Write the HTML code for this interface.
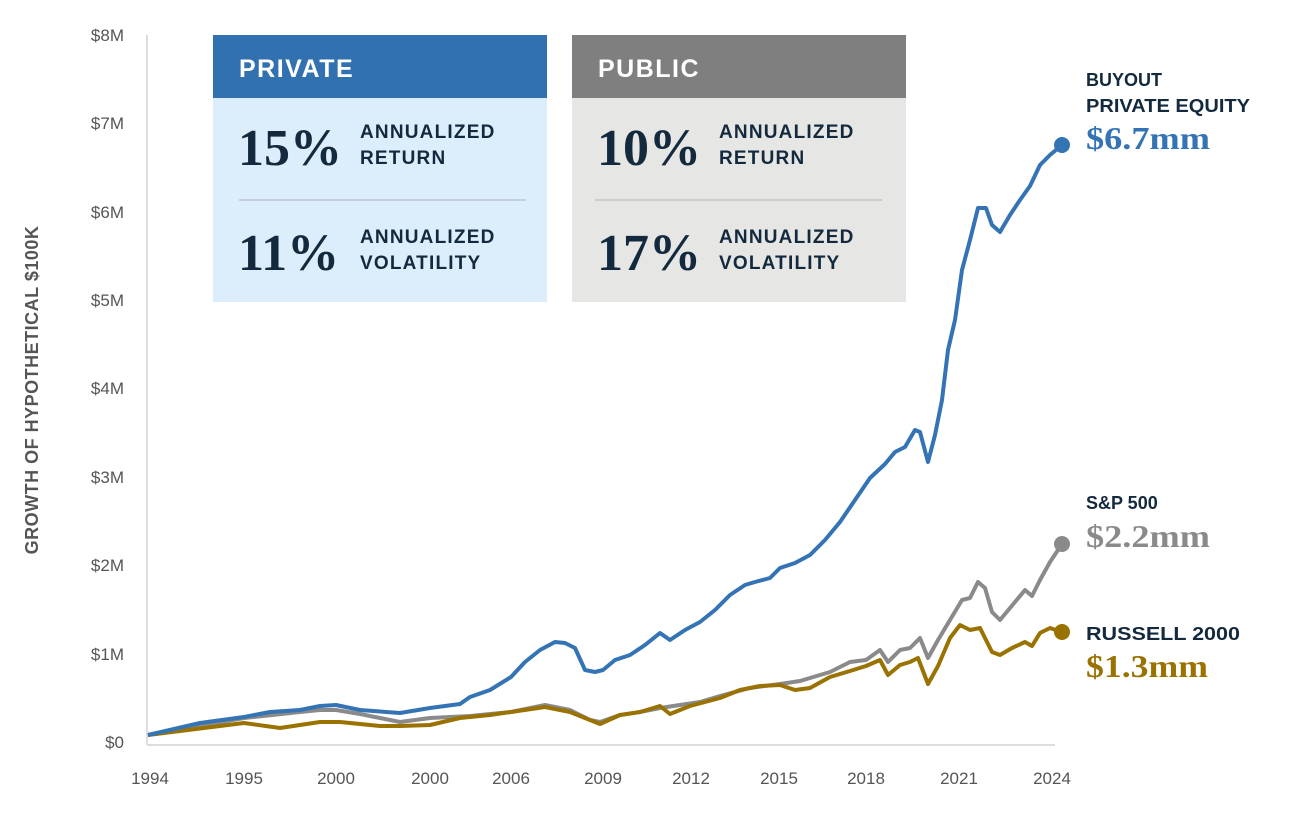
<!DOCTYPE html>
<html><head><meta charset="utf-8"><style>
body{margin:0;background:#fff;width:1295px;height:815px;overflow:hidden;font-family:"Liberation Sans",sans-serif}
</style></head><body>
<svg width="1295" height="815" viewBox="0 0 1295 815" xmlns="http://www.w3.org/2000/svg">
<g stroke="#ddd" stroke-width="2"><line x1="147" y1="35" x2="147" y2="745"/><line x1="147" y1="745" x2="1055" y2="745"/></g>
<g font-family="Liberation Sans,sans-serif" font-size="17" fill="#555" text-anchor="end">
<text x="124" y="748">$0</text><text x="124" y="660">$1M</text><text x="124" y="571">$2M</text><text x="124" y="483">$3M</text><text x="124" y="394">$4M</text><text x="124" y="306">$5M</text><text x="124" y="218">$6M</text><text x="124" y="129">$7M</text><text x="124" y="41">$8M</text></g>
<g font-family="Liberation Sans,sans-serif" font-size="17" fill="#555" text-anchor="middle">
<text x="150" y="784">1994</text><text x="244" y="784">1995</text><text x="336" y="784">2000</text><text x="430" y="784">2000</text><text x="511" y="784">2006</text><text x="603" y="784">2009</text><text x="691" y="784">2012</text><text x="779" y="784">2015</text><text x="866" y="784">2018</text><text x="959" y="784">2021</text><text x="1052" y="784">2024</text></g>
<text transform="translate(38,390) rotate(-90)" text-anchor="middle" font-size="18" font-weight="bold" fill="#555" letter-spacing="0.5">GROWTH OF HYPOTHETICAL $100K</text>
<polyline fill="none" stroke="#8a8a8a" stroke-width="4" stroke-linejoin="round" points="148,735 244,718 300,712 320,710 336,710 360,714 380,718 400,722 430,718 470,716 511,712 545,705 570,710 590,720 600,722 620,715 640,712 660,708 680,705 700,702 720,696 750,688 780,684 800,681 830,672 850,662 866,660 880,650 888,662 900,650 910,648 920,638 928,658 938,640 950,620 962,600 970,598 978,582 985,588 992,612 1000,620 1015,602 1025,590 1032,596 1040,580 1050,562 1062,544"/>
<polyline fill="none" stroke="#9a7200" stroke-width="4" stroke-linejoin="round" points="148,735 244,723 280,728 320,722 340,722 360,724 380,726 400,726 430,725 460,718 490,715 511,712 545,707 570,712 590,720 600,724 620,715 640,712 660,706 670,714 690,706 720,698 740,690 760,686 780,685 795,690 810,688 830,677 850,671 866,666 880,660 888,675 900,665 910,662 918,658 928,684 938,666 950,638 960,625 970,630 980,628 992,652 1000,655 1012,648 1025,642 1032,646 1040,633 1050,628 1062,632"/>
<polyline fill="none" stroke="#3473b4" stroke-width="4" stroke-linejoin="round" points="148,735 200,723 244,717 270,712 300,710 320,706 336,705 360,710 400,713 430,708 460,704 470,697 490,690 511,677 525,662 540,650 555,642 565,643 575,648 585,670 595,672 603,670 615,660 630,655 645,645 660,633 670,640 685,630 700,622 715,610 730,595 745,585 755,582 770,578 780,568 795,563 810,555 825,540 840,522 855,500 870,478 885,464 895,452 905,447 915,430 920,432 928,462 935,435 942,400 948,350 955,320 962,270 970,240 978,208 986,208 992,225 1000,232 1010,215 1020,200 1030,186 1040,165 1050,155 1062,145"/>
<circle cx="1062" cy="145" r="8" fill="#3473b4"/><circle cx="1062" cy="544" r="8" fill="#8a8a8a"/><circle cx="1062" cy="632" r="8" fill="#9a7200"/>
<g font-weight="bold" font-size="18" fill="#13293d"><text x="1086" y="86">BUYOUT</text><text x="1086" y="112" textLength="164" lengthAdjust="spacingAndGlyphs">PRIVATE EQUITY</text><text x="1086" y="509">S&amp;P 500</text><text x="1086" y="640" textLength="154" lengthAdjust="spacingAndGlyphs">RUSSELL 2000</text></g>
<g font-family="Liberation Serif,serif" font-weight="bold" font-size="32"><text x="1086" y="149" fill="#3473b4" textLength="124" lengthAdjust="spacingAndGlyphs">$6.7mm</text><text x="1086" y="547" fill="#8a8a8a" textLength="124" lengthAdjust="spacingAndGlyphs">$2.2mm</text><text x="1086" y="677" fill="#9a7200" textLength="122" lengthAdjust="spacingAndGlyphs">$1.3mm</text></g>
<rect x="213" y="35" width="334" height="63" fill="#3171b0"/><rect x="213" y="98" width="334" height="204" fill="#dcedfc"/>
<rect x="572" y="35" width="334" height="63" fill="#7f7f7f"/><rect x="572" y="98" width="334" height="204" fill="#e6e6e4"/>
<line x1="239" y1="200" x2="526" y2="200" stroke="#bfc7ce" stroke-width="1.5"/><line x1="595" y1="200" x2="882" y2="200" stroke="#c4c4c4" stroke-width="1.5"/>
<g font-weight="bold" font-size="25" fill="#fff" letter-spacing="1.5"><text x="239" y="77">PRIVATE</text><text x="598" y="77">PUBLIC</text></g>
<g font-family="Liberation Serif,serif" font-weight="bold" font-size="52" fill="#13293d"><text x="238" y="165">15%</text><text x="238" y="270">11%</text><text x="597" y="165">10%</text><text x="597" y="270">17%</text></g>
<g font-weight="bold" font-size="19" fill="#13293d" letter-spacing="1.2">
<text x="360" y="138">ANNUALIZED</text><text x="360" y="164">RETURN</text><text x="360" y="243">ANNUALIZED</text><text x="360" y="269">VOLATILITY</text>
<text x="719" y="138">ANNUALIZED</text><text x="719" y="164">RETURN</text><text x="719" y="243">ANNUALIZED</text><text x="719" y="269">VOLATILITY</text></g>
</svg>
</body></html>
